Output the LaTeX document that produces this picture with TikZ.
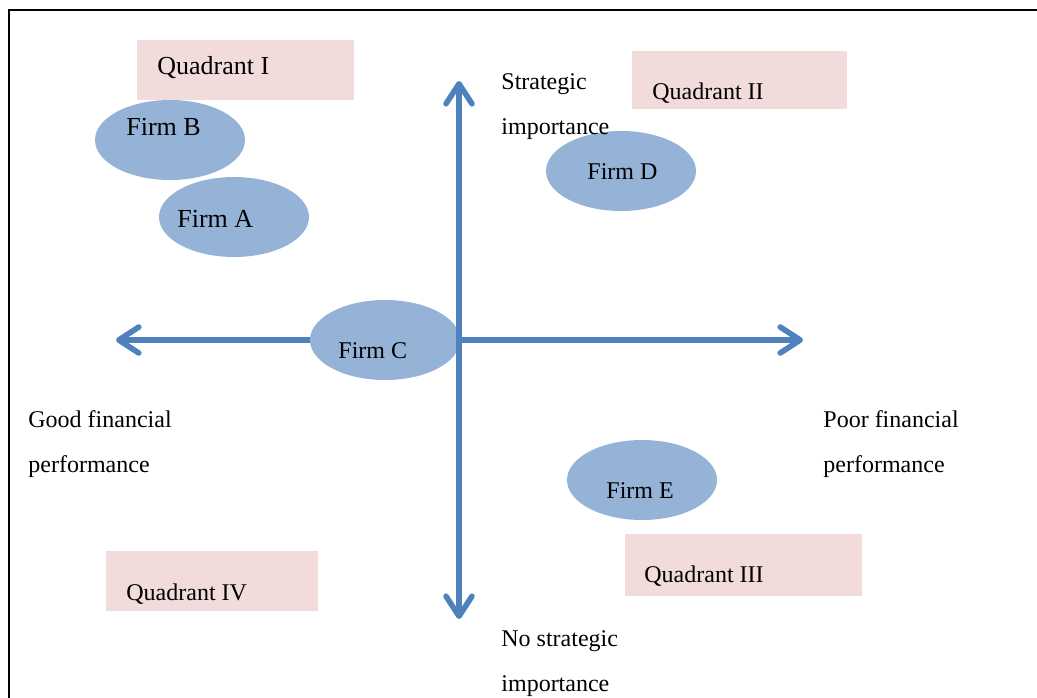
\documentclass[tikz,border=0pt]{standalone}
\usepackage{fontspec}
\setmainfont{Liberation Serif}
\usetikzlibrary{shapes.geometric,arrows.meta,positioning}

\definecolor{firmblue}{RGB}{149,179,215}
\definecolor{quadpink}{RGB}{242,219,219}
\definecolor{axisblue}{RGB}{79,129,189}

\tikzset{
	firm/.style={ellipse, fill=firmblue, minimum width=75pt, minimum height=40pt, inner sep=0pt},
	quad/.style={rectangle, fill=quadpink, anchor=north west, inner sep=0pt},
	axis/.style={draw=axisblue, line width=2.8pt, line cap=round,
		-{Straight Barb[length=10pt,width=13pt,line cap=round,line join=round]}},
	lbl/.style={inner sep=0pt, anchor=base west, font=\fontsize{12}{22.5}\selectfont},
	biglbl/.style={lbl, font=\fontsize{13}{22.5}\selectfont},
	axlbl/.style={inner sep=0pt, anchor=north west, align=left, font=\fontsize{12}{22.5}\selectfont}
}

\begin{document}
\begin{tikzpicture}[x=0.5pt,y=-0.5pt]
				\useasboundingbox (0,0) rectangle (1037,697);
				\draw[line width=1.4pt] (9,700) |- (1040,10);
				
				% quadrants
				\node[quad, minimum width=108.5pt, minimum height=30pt] (q1) at (137,40) {};
				\node[quad, minimum width=107.5pt, minimum height=29pt] (q2) at (632,51) {};
				\node[quad, minimum width=118.5pt, minimum height=31pt] (q3) at (625,534) {};
				\node[quad, minimum width=106pt, minimum height=30pt] (q4) at (106,551) {};
				
				% axes
				\coordinate (o) at (459,340);
				\coordinate (good) at (116,340);
				\coordinate (poor) at (803,340);
				\coordinate (strat) at (459,81);
				\coordinate (nostrat) at (459,619);
				
				\draw[axis] (o) -- (good);
				\draw[axis] (o) -- (poor);
				
				% firms
				\node[firm] (fb) at (170,140) {};
				\node[firm] (fa) at (234,217) {};
				\node[firm] (fc) at (385,340) {};
				\node[firm] (fd) at (621,171) {};
				\node[firm] (fe) at (642,480) {};
				
				\draw[axis] (o) -- (strat);
				\draw[axis] (o) -- (nostrat);
				
				\node[biglbl] (q1-l) at (157,74) {Quadrant I};
				\node[lbl] (q2-l) at (652,99) {Quadrant II};
				\node[lbl] (q3-l) at (644,582) {Quadrant III};
				\node[lbl] (q4-l) at (126,600) {Quadrant IV};
				
				\node[biglbl] (fb-l) at (126,135) {Firm B};
				\node[biglbl] (fa-l) at (177,227) {Firm A};
				\node[lbl] (fc-l) at (338,358) {Firm C};
				\node[lbl] (fd-l) at (587,179) {Firm D};
				\node[lbl] (fe-l) at (606,498) {Firm E};
				
				\node[axlbl] (strat-l) at (501,73) {Strategic\\importance};
				\node[axlbl] (nostrat-l) at (501,630) {No strategic\\importance};
				\node[axlbl] (good-l) at (28,410) {Good financial\\performance};
				\node[axlbl] (poor-l) at (823,410) {Poor financial\\performance};
				
			\end{tikzpicture}
\end{document}
